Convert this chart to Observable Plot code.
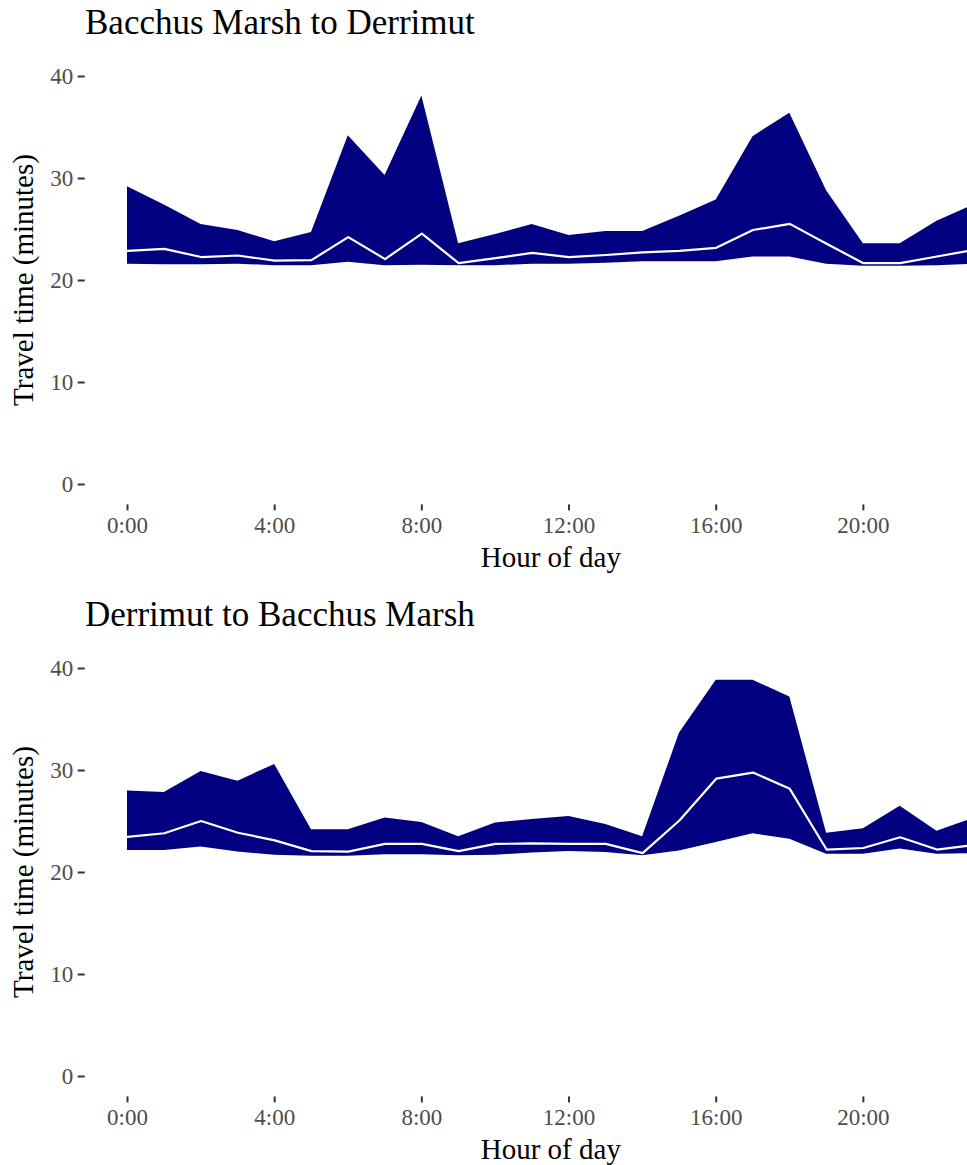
<!DOCTYPE html>
<html>
<head>
<meta charset="utf-8">
<script src="https://cdn.jsdelivr.net/npm/d3@7"></script>
<script src="https://cdn.jsdelivr.net/npm/@observablehq/plot@0.6"></script>
<style>
  html, body { margin: 0; padding: 0; background: white; overflow: hidden; }
  #wrap { width: 967px; height: 1165px; overflow: hidden; }
  #wrap svg { display: block; }
  g[aria-label$="-axis tick"] { stroke: #333333; stroke-width: 2px; }
  g[aria-label$="-axis tick label"] { fill: #4d4d4d; }
</style>
</head>
<body>
<div id="wrap"></div>
<script>
const hours = [0,1,2,3,4,5,6,7,8,9,10,11,12,13,14,15,16,17,18,19,20,21,22,23];
const xTicks = [0,4,8,12,16,20];
const yTicks = [0,10,20,30,40];
const titles = ["Bacchus Marsh to Derrimut", "Derrimut to Bacchus Marsh"];

// Bacchus Marsh -> Derrimut
const bdMin = [21.6,21.55,21.55,21.6,21.45,21.45,21.8,21.45,21.5,21.45,21.45,21.6,21.6,21.7,21.85,21.85,21.85,22.3,22.3,21.6,21.4,21.4,21.45,21.6];
const bdMed = [22.9,23.1,22.3,22.45,21.95,22.0,24.25,22.1,24.6,21.7,22.2,22.7,22.3,22.5,22.75,22.9,23.2,24.95,25.55,23.6,21.7,21.7,22.35,23.0];
const bdMax = [29.2,27.4,25.5,24.9,23.8,24.7,34.2,30.3,38.1,23.6,24.5,25.5,24.4,24.8,24.8,26.3,27.9,34.1,36.4,28.8,23.6,23.6,25.8,27.4];

// Derrimut -> Bacchus Marsh
const dbMin = [22.15,22.15,22.5,22.0,21.7,21.6,21.6,21.75,21.75,21.65,21.7,21.9,22.05,21.95,21.65,22.1,22.95,23.8,23.25,21.8,21.8,22.3,21.8,21.85];
const dbMed = [23.5,23.85,25.05,23.9,23.15,22.1,22.05,22.8,22.8,22.1,22.8,22.85,22.8,22.8,21.9,25.1,29.2,29.8,28.2,22.25,22.4,23.45,22.25,22.7];
const dbMax = [28.0,27.85,29.9,28.95,30.6,24.2,24.2,25.35,24.9,23.5,24.85,25.2,25.5,24.7,23.5,33.65,38.85,38.85,37.2,23.85,24.3,26.5,24.05,25.3];

const series = [
  {title: titles[0], min: bdMin, med: bdMed, max: bdMax},
  {title: titles[1], min: dbMin, med: dbMed, max: dbMax}
];

const W = 967, H = 573;
const mL = 84.7, mR = 0, mT = 55.6, mB = 68.6;
const wrap = document.getElementById("wrap");

series.forEach((s, i) => {
  const data = hours.map((h, j) => ({hour: h, min: s.min[j], med: s.med[j], max: s.max[j]}));
  const svg = Plot.plot({
    width: W,
    height: H,
    marginLeft: mL,
    marginRight: mR,
    marginTop: mT,
    marginBottom: mB,
    style: {fontFamily: "'Liberation Serif', 'Times New Roman', serif", fontSize: "23px", color: "#4d4d4d", background: "white", overflow: "hidden"},
    x: {domain: [-1.15, 22.83], ticks: xTicks, tickFormat: d => `${d}:00`, tickSize: 6, tickPadding: 6, label: null},
    y: {domain: [-2, 42], ticks: yTicks, tickSize: 7, tickPadding: 5, label: null},
    marks: [
      Plot.areaY(data, {x: "hour", y1: "min", y2: "max", fill: "#000080", clip: true}),
      Plot.lineY(data, {x: "hour", y: "med", stroke: "white", strokeWidth: 2.2, clip: true})
    ]
  });
  const sel = d3.select(svg);
  sel.append("text")
    .attr("x", 85).attr("y", 34)
    .attr("text-anchor", "start")
    .attr("font-size", 35).attr("fill", "black")
    .text(s.title);
  sel.append("text")
    .attr("transform", `translate(33,${(mT + (H - mB)) / 2}) rotate(-90)`)
    .attr("text-anchor", "middle")
    .attr("font-size", 29).attr("fill", "black")
    .text("Travel time (minutes)");
  sel.append("text")
    .attr("x", (mL + 1017) / 2).attr("y", 566.5)
    .attr("text-anchor", "middle")
    .attr("font-size", 29).attr("fill", "black")
    .text("Hour of day");
  if (i === 1) svg.style.marginTop = "19px";
  wrap.appendChild(svg);
});
</script>
</body>
</html>
